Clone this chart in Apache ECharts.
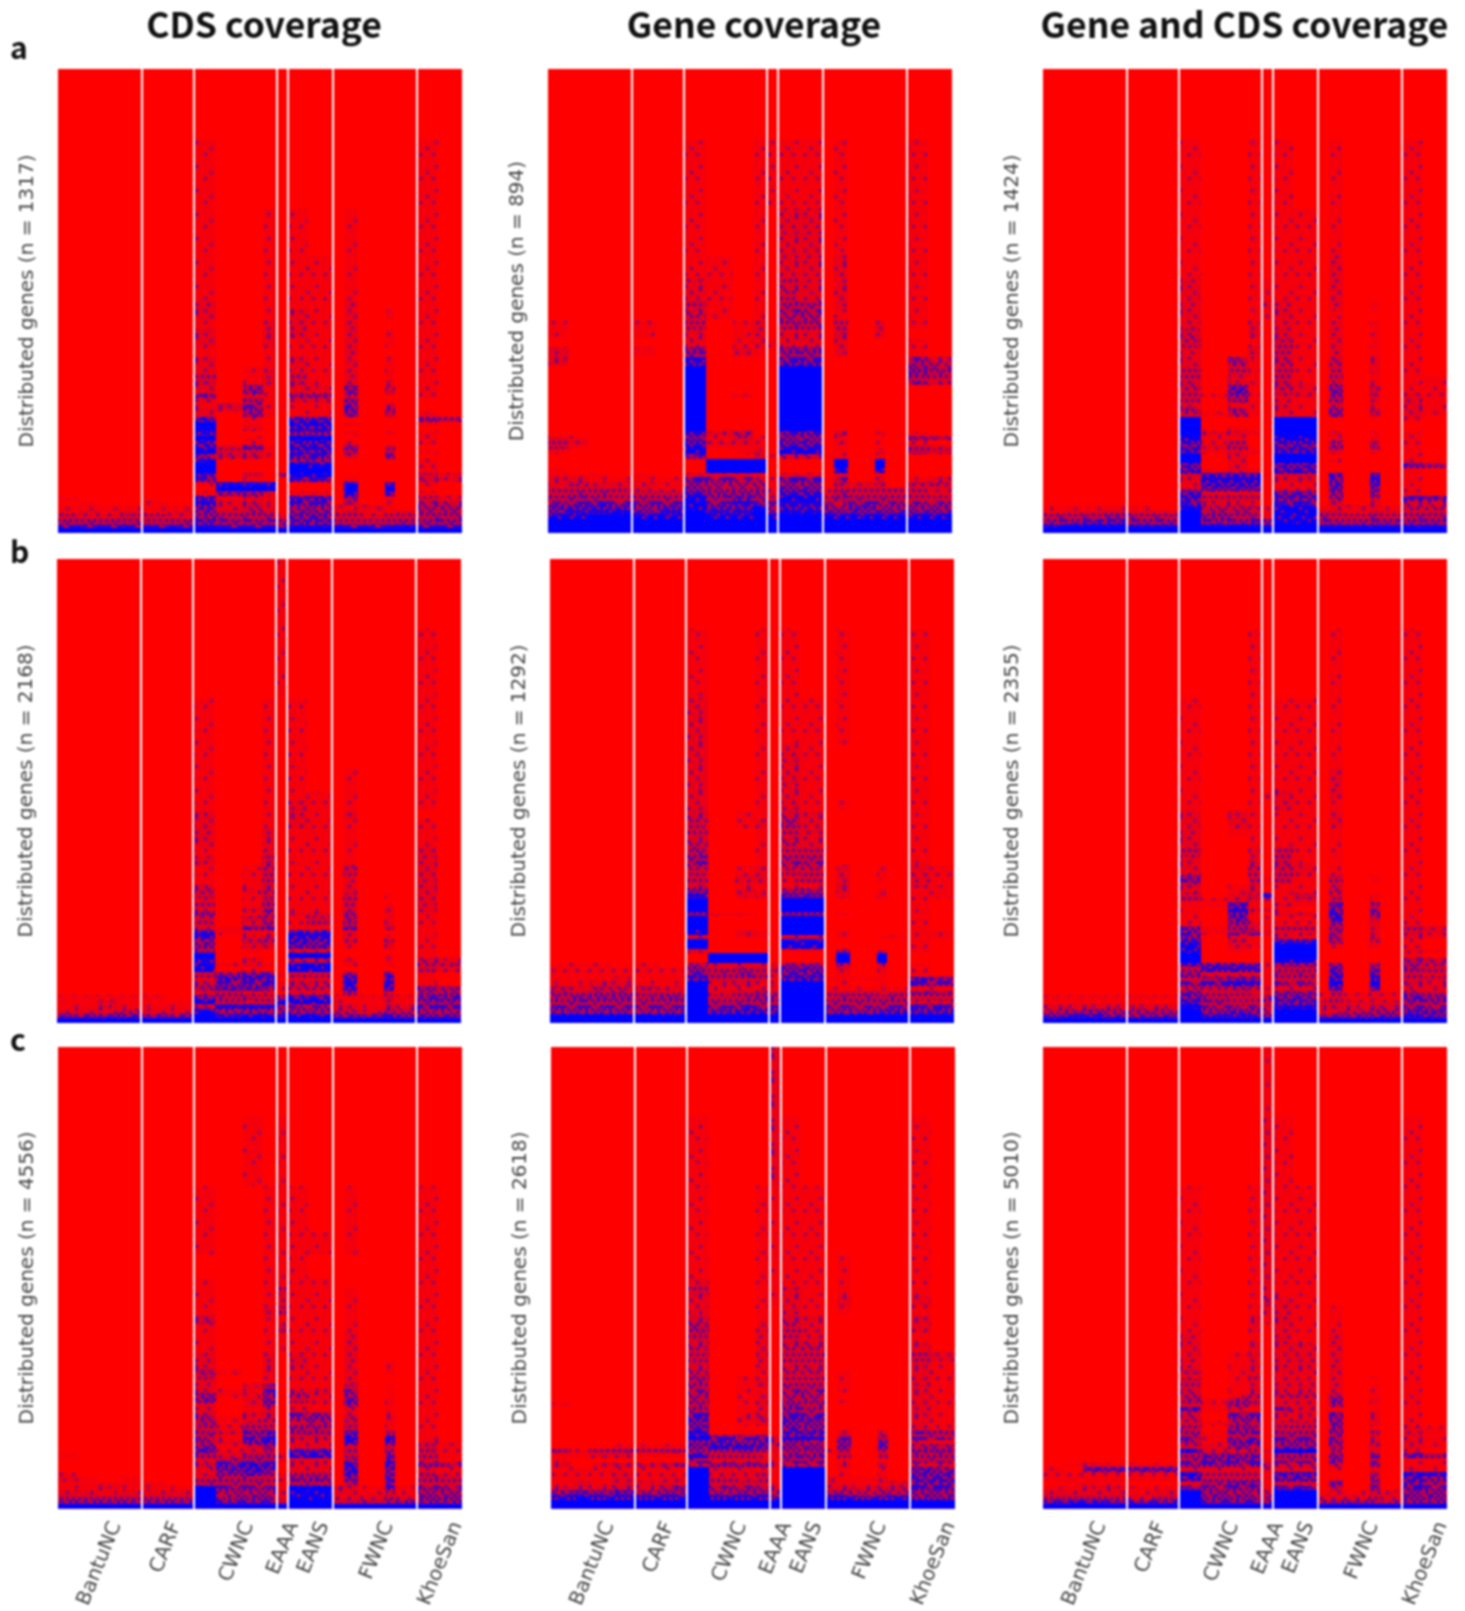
<!DOCTYPE html>
<html><head><meta charset="utf-8">
<style>html,body{margin:0;padding:0;background:#fff}#c{width:1465px;height:1611px;filter:blur(0.9px)}</style>
<script src="https://cdn.jsdelivr.net/npm/echarts@6/dist/echarts.min.js"></script>
</head><body><div id="c"></div>
<script>
const groupLabels = ['BantuNC','CARF','CWNC','EAAA','EANS','FWNC','KhoeSan'];
const labelTicks = [14.4,29.2,47.2,58.3,65.8,81.8,98.8];
const groupEdges = [20.7,33.6,54.1,56.9,67.9,88.7];
const columnEdges = [0,5,10,15,20.7,27,33.6,39.2,45.8,50.7,54.1,56.9,62,67.9,70.7,74.3,80.9,83.3,88.7,94,100];
const rowEdges = [100,85,70,60,55,50,48,46,44,42,40,38,36,34,32,30,29,28,27,26,25,24,23,22,21,20,19,18,17,16,15,14,13,12,11,10,9,8,7,6,5,4,3,2,1,0];
const columnTitles = ['CDS coverage','Gene coverage','Gene and CDS coverage'];
const rowLetters = ['a','b','c'];
const geneCounts = [1317,894,1424,2168,1292,2355,4556,2618,5010];

const densityA1 = [
"0000 00 0000 0 00 00000 00","0000 00 1000 0 00 00000 10","0000 00 1001 0 10 01000 10","0000 00 1001 0 11 01000 10","0000 00 1001 0 11 01000 10",
"0000 00 2001 0 11 02000 10","0000 00 2001 0 21 02010 10","0000 00 1002 0 21 02000 10","0000 00 2002 0 21 02010 10","0000 00 2002 0 11 02010 10",
"0000 00 1001 0 11 02000 10","0000 00 2001 0 21 02010 10","0000 00 2012 0 21 02010 10","0000 00 3012 0 31 02010 10","0000 00 2051 0 22 05030 10",
"0000 00 6021 0 55 03000 10","0000 00 2041 0 22 05000 00","0000 00 1351 1 11 06030 00","0000 00 2251 0 11 06040 00","0000 00 2051 0 11 05040 10",
"0000 00 7010 0 77 00000 54","0000 00 9010 0 88 01000 10","0000 00 8020 0 77 00000 00","0000 00 7000 0 55 01010 10","0000 00 9010 0 99 00000 10",
"0000 00 7010 0 77 01000 10","0000 00 7261 0 77 05030 00","0000 00 8331 0 77 05040 10","0000 00 4331 0 66 02040 00","0000 00 8000 0 55 00000 10",
"0000 00 9000 0 98 00000 10","0000 00 9000 0 99 00000 10","0000 00 7030 4 88 00000 32","0000 00 6010 0 66 01000 32","0000 00 1888 0 00 08070 10",
"0000 00 0999 0 00 09090 00","0000 00 1552 0 11 08070 10","1000 00 7121 0 77 05010 32","0100 10 7231 0 66 04010 43","1111 11 6232 0 55 21210 44",
"1212 12 5343 1 55 23112 44","3223 32 5444 2 66 33233 44","4444 34 6555 4 66 43344 55","6666 66 7666 6 77 76667 66","9999 99 9999 9 99 99999 99"];

const densityA2 = [
"0000 00 0000 0 00 00000 00","0000 00 1001 1 11 01000 10","0000 00 1001 0 22 01000 10","0000 00 1101 0 22 02000 10","0000 00 2101 0 32 02000 10",
"0000 00 3101 0 44 02000 10","0000 00 3101 0 44 01000 10","1000 10 3012 0 44 03020 10","1000 10 2012 0 22 03020 00","0000 00 2012 1 22 02000 10",
"2000 10 5021 0 55 02000 10","2000 00 7000 0 66 00000 43","0000 00 9000 0 99 00000 54","0000 00 9000 0 99 00000 43","0000 00 9000 0 99 00000 00",
"0000 00 9010 0 99 00000 00","0000 00 9000 0 99 00000 00","0000 00 9000 0 99 00000 00","0000 00 9000 0 99 00000 00","0000 00 9000 0 99 00000 00",
"0000 00 9000 0 99 00000 00","0000 00 9000 0 99 00000 00","0000 00 9000 0 99 00000 00","0000 00 7240 0 66 03020 10","2100 00 5131 0 55 01000 54",
"3200 00 7221 0 66 02010 10","3100 00 8111 0 77 01000 32","1000 00 8012 0 88 01020 43","0000 00 5002 1 33 11010 00","0000 00 0999 0 00 09090 00",
"0000 00 0999 0 00 09090 00","1000 00 0999 0 00 08080 00","1110 10 2221 0 22 02010 00","2211 11 6543 1 66 14020 12","2322 21 5444 1 55 03230 33",
"3333 21 5444 1 66 13333 32","3443 33 7555 2 77 24333 32","4543 44 8565 3 88 35444 33","4565 55 8576 4 77 43554 44","6676 56 8668 5 77 54645 55",
"6778 67 9779 6 88 66666 66","8899 88 9889 8 99 88888 88","9999 99 9999 9 99 99999 99","9999 99 9999 9 99 99999 99","9999 99 9999 9 99 99999 99"];

const densityA3 = [
"0000 00 0000 0 00 00000 00","0000 00 1001 0 10 01000 10","0000 00 1001 0 11 01000 10","0000 00 1001 0 11 02000 10","0000 00 2001 1 11 02000 10",
"0000 00 2001 2 21 02010 10","0000 00 2001 1 21 01000 10","0000 00 2002 0 21 02010 10","0000 00 3002 0 21 02010 10","0000 00 3001 0 31 02010 10",
"0000 00 2002 0 31 02010 10","0000 00 2041 0 31 03020 10","0000 00 3031 0 31 03020 10","0000 00 3021 0 31 03010 11","0000 00 3061 0 32 05030 11",
"0000 00 3151 0 22 05030 21","0000 00 3041 0 21 04020 21","0000 00 2011 0 21 03010 21","0000 00 4041 0 21 05030 21","0000 00 3141 0 21 05040 21",
"0000 00 9000 0 99 00000 10","0000 00 9000 0 99 00000 00","0000 00 9010 0 99 00000 00","0000 00 9221 0 99 02010 10","0000 00 8110 0 88 01010 10",
"0000 00 7130 0 77 04030 10","0000 00 6240 0 66 05040 10","0000 00 7121 0 77 02010 10","0000 00 9020 0 99 00000 10","0000 00 9020 0 99 01000 10",
"0000 00 6020 0 66 00000 64","0000 00 7121 0 77 00000 10","0000 00 3777 1 33 07070 10","0000 00 2777 0 22 06070 10","0000 00 1777 0 11 06070 10",
"0000 00 3666 0 22 06060 10","0000 00 7222 0 66 05050 10","0000 00 7333 0 66 05030 76","0000 00 6221 0 66 03020 32","1111 10 8333 1 88 12221 33",
"1223 22 9443 1 88 33132 33","4445 44 9544 2 88 43343 44","5566 55 9556 5 88 54455 55","7888 77 9888 7 99 77777 77","9999 99 9999 9 99 99999 99"];

const densityB1 = [
"0000 00 0000 1 00 00000 00","0000 00 0000 1 00 00000 10","0000 00 1001 0 10 00000 10","0000 00 1001 0 10 00000 10","0000 00 1001 0 10 01000 10",
"0000 00 1001 0 11 01000 10","0000 00 1001 0 21 01000 10","0000 00 2001 0 21 02000 00","0000 00 2001 0 21 01000 10","0000 00 2002 0 11 01000 10",
"0000 00 2002 0 11 01000 10","0000 00 1002 0 11 01000 20","0000 00 2003 0 11 01000 20","0000 00 1013 0 11 03000 20","0000 00 1013 0 11 02000 20",
"0000 00 2013 0 11 02000 20","0000 00 3023 0 11 02000 20","0000 00 3013 0 11 03010 20","0000 00 2013 0 11 03000 20","0000 00 3014 0 11 03010 20",
"0000 00 2024 0 11 03020 20","0000 00 5013 0 22 04010 10","0000 00 3034 0 13 04020 10","0000 00 3024 0 13 04020 10","0000 00 2155 0 11 06030 10",
"0000 00 7111 0 77 02000 10","0000 00 7023 0 77 02010 10","0000 00 5034 0 76 03040 10","0000 00 5022 0 66 01020 10","0000 00 4010 0 22 00000 10",
"0000 00 9000 0 99 00010 10","0000 00 7020 0 33 02010 32","0000 00 8121 0 88 01010 33","0000 00 8010 0 88 00000 32","0000 00 3566 1 33 06060 10",
"0000 00 2777 0 22 07070 10","0000 00 3556 1 33 07070 10","0000 00 4665 1 33 07070 54","0000 00 2322 0 22 04020 44","1111 10 6443 5 77 11131 66",
"1121 11 8323 8 88 21121 55","1121 11 3777 6 44 22132 66","2223 22 8454 5 55 33243 44","5566 55 9788 7 88 65675 66","9999 99 9999 9 99 99999 99"];

const densityB2 = [
"0000 00 0000 0 00 00000 00","0000 00 1001 0 10 01000 10","0000 00 2001 0 11 01000 10","0000 00 2001 0 21 00000 10","0000 00 2001 0 21 00000 10",
"0000 00 2001 0 21 00000 10","0000 00 2001 0 21 01000 10","0000 00 3011 0 32 00000 10","0000 00 3012 0 42 00000 10","0000 00 3001 0 32 00000 10",
"0000 00 3001 0 32 00000 10","0000 00 4001 0 33 00000 10","0000 00 5001 0 44 00000 10","0000 00 3012 0 33 02010 21","0000 00 3022 0 23 02010 21",
"0000 00 3011 0 11 03000 21","0000 00 5021 0 44 02010 11","0000 00 7022 0 66 02020 11","0000 00 9000 0 99 00000 10","0000 00 9000 0 99 00000 10",
"0000 00 9000 0 99 00000 10","0000 00 5110 0 55 01000 10","0000 00 9000 0 99 00000 10","0000 00 9000 0 99 00000 10","0000 00 9000 0 99 00000 10",
"0000 00 8021 0 99 01000 11","0000 00 2011 0 22 01011 11","0000 00 9000 0 88 00000 10","0000 00 9000 0 88 00000 10","0000 00 2000 0 11 04020 10",
"0000 00 0999 0 00 09090 00","0000 00 0999 0 00 09090 00","1110 10 4222 2 55 04030 10","1111 11 5343 3 66 02020 10","1111 11 6454 2 66 01010 10",
"1112 11 7333 1 77 11110 76","1122 11 9232 1 99 01010 65","3233 32 9222 2 99 11111 11","4344 33 9234 4 99 33323 54","4555 45 9345 4 99 34444 33",
"4544 44 9444 4 99 44444 22","5555 55 9565 5 99 55455 66","5555 45 9677 6 99 55566 66","9999 99 9999 9 99 99999 99","9999 99 9999 9 99 99999 99"];

const densityB3 = [
"0000 00 0000 0 00 00000 00","0000 00 0001 0 00 01000 10","0000 00 1001 0 11 01000 10","0000 00 1001 0 11 01000 10","0000 00 1001 0 11 02000 10",
"0000 00 1001 1 21 02000 10","0000 00 1001 0 21 01000 10","0000 00 2021 0 11 02000 10","0000 00 2021 0 11 02000 10","0000 00 2011 0 11 01000 10",
"0000 00 2001 0 11 01000 10","0000 00 3002 0 31 01000 10","0000 00 2002 0 31 01000 10","0000 00 2003 0 32 01000 10","0000 00 5003 1 31 03010 10",
"0000 00 3012 0 11 03000 10","0000 00 2012 0 11 03000 10","0000 00 3023 7 13 03010 10","0000 00 3122 3 12 03010 10","0000 00 1161 0 21 06040 10",
"0000 00 1072 2 10 06040 10","0000 00 1061 0 22 07050 10","0000 00 1061 1 11 07040 10","0000 00 1052 1 11 05020 10","0000 00 5142 1 33 04020 32",
"0000 00 6155 2 22 05020 32","0000 00 5021 0 21 04020 21","0000 00 7031 0 77 04030 10","0000 00 8021 0 99 01010 10","0000 00 8010 0 99 00000 21",
"0000 00 9000 0 99 00000 10","0000 00 9000 0 88 00000 43","0000 00 6666 1 55 05050 43","0000 00 3777 1 33 06060 43","0000 00 5222 1 44 07070 32",
"0000 00 3566 1 33 07070 33","0000 00 5676 1 44 08080 32","0000 00 3343 1 22 06060 22","0000 00 6332 1 55 13121 43","1111 11 6433 5 66 13121 65",
"1111 10 7533 3 66 23222 55","2222 22 8444 4 77 23233 54","3454 44 9565 3 99 22344 66","6776 56 9777 5 99 55566 76","9999 99 9999 9 99 99999 99"];

const densityC1 = [
"0000 00 0000 0 00 00000 00","0000 00 0010 1 00 00000 00","0000 00 1001 1 10 01000 10","0000 00 1001 1 11 01000 10","0000 00 0001 1 10 00000 10",
"0000 00 1001 1 11 00000 10","0000 00 1001 3 11 01000 10","0000 00 1001 2 11 01000 10","0000 00 1002 3 11 01000 10","0000 00 3001 1 11 01000 10",
"0000 00 1001 3 11 01000 10","0000 00 1001 1 11 02000 10","0000 00 1001 1 11 02000 10","0000 00 2002 0 21 02000 10","0000 00 2002 0 21 02010 10",
"0000 00 4102 0 11 02010 10","0000 00 3002 0 21 02000 10","0000 00 2001 0 11 02000 10","0000 00 2025 0 11 03010 10","0000 00 2115 0 22 05000 10",
"0000 00 5125 0 42 04010 10","0000 00 5026 0 32 06010 10","0000 00 2025 0 11 05010 10","0000 00 2012 0 21 02010 10","0000 00 3023 0 54 02010 10",
"0000 00 4123 0 45 03020 10","0000 00 4133 0 34 03010 10","0000 00 3143 0 54 03010 10","0000 00 4256 0 44 06030 10","0000 00 4167 0 33 07070 10",
"0000 00 4267 0 22 07070 21","0000 00 5135 0 22 03040 31","0000 00 7123 0 77 04040 31","1000 00 4244 2 77 03050 31","0000 00 2555 1 22 05060 31",
"0000 00 3676 0 22 07060 54","0000 00 2676 0 22 07060 21","1000 00 2565 1 33 07060 32","2101 00 3443 2 55 06060 43","1111 10 4443 1 44 04060 33",
"1121 11 9555 1 99 32151 54","2212 22 9444 2 88 22131 44","3333 33 9455 2 88 22232 55","5555 55 9666 4 99 34445 55","9999 99 9999 9 99 99999 99"];

const densityC2 = [
"0000 00 0000 2 00 00000 00","0000 00 1000 2 10 00000 10","0000 00 1001 1 11 00000 10","0000 00 1001 1 11 00000 10","0000 00 1001 1 11 01000 10",
"0000 00 2001 1 11 01000 10","0000 00 3001 1 21 01000 10","0000 00 2001 1 21 02000 20","0000 00 2001 0 21 01000 10","0000 00 3001 0 32 00000 20",
"0000 00 4002 0 32 00000 20","0000 00 3002 0 32 00000 10","0000 00 3002 0 33 00000 20","0000 00 3002 0 33 00000 32","0000 00 3002 0 33 00000 21",
"0000 00 3001 0 33 01000 21","0000 00 4011 0 33 01000 21","0000 00 4012 0 33 01000 21","0000 00 4012 0 44 01000 21","0000 00 4011 0 44 01000 21",
"0000 00 4012 0 44 00000 21","0000 00 4012 0 44 01000 21","1000 00 4012 0 54 00000 21","0000 00 4012 0 54 00000 21","0000 00 6012 0 65 00000 21",
"0000 00 6023 0 66 00000 21","0000 00 6012 0 65 00000 21","0000 00 6000 0 65 00000 21","0000 00 7011 0 66 02020 54","0000 00 8656 2 77 05050 54",
"0000 00 5656 3 54 05060 21","0001 11 6776 3 55 06060 44","4134 34 4454 2 44 13030 55","1122 11 7332 1 55 03030 44","1000 00 5222 1 55 01010 44",
"2023 34 3555 2 33 02030 22","1111 11 9221 1 99 01010 65","1112 11 9223 1 99 01010 66","1112 12 9323 1 99 21120 66","1212 22 9333 1 99 21122 66",
"2223 24 9444 2 99 23233 66","5656 45 9455 4 99 44343 55","7877 77 9777 6 99 77667 55","9999 99 9999 9 99 99999 99","9999 99 9999 9 99 99999 99"];

const densityC3 = [
"0000 00 0000 1 00 00000 00","0000 00 0000 2 10 00000 10","0000 00 1001 2 11 00000 10","0000 00 1001 2 11 00000 10","0000 00 1001 2 11 00000 10",
"0000 00 1001 2 11 00000 10","0000 00 1001 2 11 00000 10","0000 00 1001 3 21 00000 10","0000 00 1001 2 21 01000 10","0000 00 1002 1 21 01000 10",
"0000 00 1002 0 21 01000 10","0000 00 2001 0 21 02000 10","0000 00 2002 0 22 02000 10","0000 00 2012 0 22 02000 10","0000 00 2012 0 22 02000 10",
"0000 00 3012 0 22 02000 10","0000 00 2013 0 21 02010 10","0000 00 3012 0 22 02000 10","0000 00 3012 0 22 02010 10","0000 00 3012 0 22 02010 10",
"0000 00 3013 0 33 03010 10","0000 00 4143 0 22 05020 10","0000 00 2153 0 22 05010 10","0000 00 6121 0 52 01010 10","0000 00 3055 0 22 06020 10",
"0000 00 3055 0 22 05020 10","0000 00 3144 0 33 05020 10","0000 00 4054 0 33 05010 21","0000 00 4155 0 44 05030 21","0000 00 5144 0 55 05020 21",
"0000 00 4166 0 55 05030 21","0000 00 3254 0 55 04030 21","0000 00 8223 2 99 03020 10","0000 00 4555 1 44 05050 64","0000 00 5666 2 55 06040 11",
"0121 11 5545 4 33 03040 11","1066 66 2222 2 22 01020 21","1111 11 8333 1 77 00040 88","1111 11 7333 1 66 01040 65","0111 00 2566 1 33 06050 65",
"1122 11 5454 1 66 03040 65","2222 12 9544 3 99 12132 55","3333 23 9555 4 99 22232 55","6776 66 9666 5 99 45544 55","9999 99 9999 9 99 99999 99"];

const densities = [densityA1,densityA2,densityA3,densityB1,densityB2,densityB3,densityC1,densityC2,densityC3];

// layout (pixels)
const panelLefts = [58,548,1043, 57,550,1043, 58,551,1043];
const rowTops = [69,559,1047];
const panelWidth = 404, panelHeight = 464;

// Fixed speck texture that renders a cell's density level as soft purple/blue specks on red.
const speckOrder = [
 37,5,52,21,44,11,60,28, 14,62,30,8,55,35,2,49, 46,24,41,58,18,26,42,16, 3,54,10,33,0,50,9,57,
 31,19,61,47,23,39,63,22, 43,7,27,12,56,6,34,13, 59,36,51,40,29,48,17,53, 20,1,15,25,4,38,45,32];
const speckShare = [0,0.05,0.12,0.22,0.33,0.45,0.58,0.72,0.86,1];
const speckW = 3, speckH = 3;
function mix(t){ t=Math.min(1,t); return 'rgb('+Math.round(255*(1-t))+',0,'+Math.round(255*t)+')'; }
function levelFill(l){
  if(l>=9) return '#0000ff';
  const t=l/9;
  const cv=document.createElement('canvas');
  cv.width=8*speckW; cv.height=8*speckH;
  const g=cv.getContext('2d');
  g.fillStyle=mix(t*0.42); g.fillRect(0,0,cv.width,cv.height);
  g.fillStyle=mix(0.42+0.6*t);
  speckOrder.forEach((v,i)=>{
    if(v<speckShare[l]*64) g.fillRect((i%8)*speckW,Math.floor(i/8)*speckH,speckW,speckH);
  });
  return {image:cv,repeat:'repeat'};
}
const levelFills=[0,1,2,3,4,5,6,7,8,9].map(levelFill);

function cells(rows,n){
  const out=[];
  rows.forEach((s,r)=>{
    const digits=s.replace(/ /g,'');
    for(let c=0;c<digits.length;c++){
      const lv=+digits[c];
      if(lv>0) out.push([columnEdges[c],columnEdges[c+1],rowEdges[r+1]*n/100,rowEdges[r]*n/100,lv]);
    }
  });
  return out;
}
const grids=[],xAxes=[],yAxes=[],series=[];
const axisText='#454545';
geneCounts.forEach((n,i)=>{
  const row=Math.floor(i/3);
  grids.push({left:panelLefts[i],top:rowTops[row],width:panelWidth,height:panelHeight,show:true,backgroundColor:'#ff0000',borderWidth:0});
  xAxes.push({gridIndex:i,type:'value',min:0,max:100,axisLine:{show:false},axisTick:{show:false},splitLine:{show:false},
    axisLabel:row===2?{show:true,customValues:labelTicks,rotate:68,margin:14,fontSize:20,fontFamily:'DejaVu Sans',color:axisText,hideOverlap:false,
      formatter:v=>groupLabels[labelTicks.indexOf(v)]||''}:{show:false}});
  yAxes.push({gridIndex:i,type:'value',min:0,max:n,axisLine:{show:false},axisTick:{show:false},splitLine:{show:false},axisLabel:{show:false},
    name:'Distributed genes (n = '+n+')',nameLocation:'middle',nameGap:20,nameRotate:90,
    nameTextStyle:{fontSize:20,fontFamily:'DejaVu Sans',color:axisText}});
  series.push({type:'custom',xAxisIndex:i,yAxisIndex:i,coordinateSystem:'cartesian2d',clip:true,silent:true,
    encode:{x:[0,1],y:[2,3]},data:cells(densities[i],n),
    renderItem:(p,api)=>{
      const a=api.coord([api.value(0),api.value(3)]),b=api.coord([api.value(1),api.value(2)]);
      const x=Math.round(a[0]),y=Math.round(a[1]);
      return {type:'rect',shape:{x,y,width:Math.round(b[0])-x,height:Math.round(b[1])-y},style:{fill:levelFills[api.value(4)]}};
    },
    markLine:{silent:true,symbol:'none',animation:false,label:{show:false},lineStyle:{color:'#ffffff',width:2,type:'solid',opacity:1},
      data:groupEdges.map(v=>({xAxis:v}))}});
});
const titleCenters=[259,749,1239.5];
const titles=columnTitles.map((t,i)=>({text:t,left:titleCenters[i],top:2,textAlign:'center',
  textStyle:{fontFamily:'Noto Sans CJK KR',fontWeight:'bold',fontSize:35.5,color:'#111'}}));
const letterTops=[28,532,1020];
rowLetters.forEach((t,i)=>titles.push({text:t,left:5,top:letterTops[i],
  textStyle:{fontFamily:'Noto Sans CJK KR',fontWeight:'bold',fontSize:30,color:'#111'}}));
const chart=echarts.init(document.getElementById('c'),null,{renderer:'canvas'});
chart.setOption({animation:false,backgroundColor:'#fff',title:titles,grid:grids,xAxis:xAxes,yAxis:yAxes,series});
</script></body></html>
